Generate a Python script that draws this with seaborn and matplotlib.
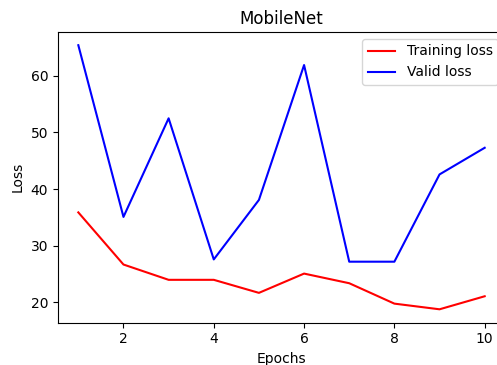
import pandas as pd
import seaborn as sns
import matplotlib.pyplot as plt

epochs = [1, 2, 3, 4, 5, 6, 7, 8, 9, 10]
train_loss = [35.9, 26.7, 24.0, 24.0, 21.7, 25.1, 23.4, 19.8, 18.8, 21.1]
valid_loss = [65.4, 35.1, 52.5, 27.6, 38.1, 61.9, 27.2, 27.2, 42.6, 47.3]

df = pd.DataFrame({'epoch': epochs, 'train': train_loss, 'valid': valid_loss})

fig = plt.figure(figsize=(4.97, 3.65), dpi=100)
# right spine sits just past the canvas edge, like the cropped original
ax = fig.add_axes([58 / 497, (365 - 322.5) / 365, 447 / 497, 290.5 / 365])

sns.lineplot(df, x='epoch', y='train', color='r', label='Training loss', ax=ax)
sns.lineplot(df, x='epoch', y='valid', color='b', label='Valid loss', ax=ax)

ax.set_title('MobileNet')
ax.set_xlabel('Epochs')
ax.set_ylabel('Loss')
ax.legend(loc='upper right')

fig.savefig('out.png', dpi=100)
